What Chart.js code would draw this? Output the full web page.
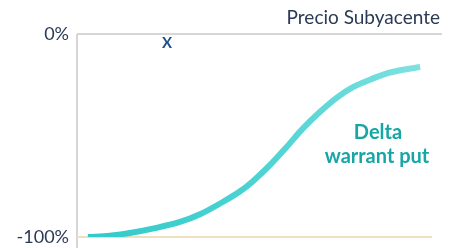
<!DOCTYPE html>
<html>
<head>
<meta charset="utf-8">
<script src="https://cdn.jsdelivr.net/npm/chart.js@4"></script>
<style>
  html, body { margin: 0; padding: 0; background: #fff; }
  #wrap { width: 453px; height: 248px; }
</style>
</head>
<body>
<div id="wrap"><canvas id="deltaChart"></canvas></div>
<script>
// Datos (x = posición relativa del subyacente, y = delta en %)
const precios = [3, 9, 14.5, 21.4, 28.2, 33.7, 39.2, 44.7, 48.2, 52.9, 57.5, 61.9, 66.6, 71.2, 75.6, 80.3, 84.9, 89.3, 94];
const delta = [-100, -99.4, -98, -95.6, -92.6, -88.8, -83.5, -77.5, -72.5, -64.5, -55.5, -46.5, -38.3, -31.3, -26.2, -22.5, -19.4, -17.6, -16.3];
const ticksY = [-100, 0];

const fuente = 'Lato, "Noto Sans", sans-serif';

// Líneas de referencia y textos
const decoracion = {
    id: 'decoracion',
    beforeDatasetsDraw(chart) {
        const { ctx, chartArea, scales } = chart;
        const y0 = scales.y.getPixelForValue(0);
        const y100 = scales.y.getPixelForValue(-100);
        ctx.save();
        ctx.lineWidth = 2;
        // eje vertical
        ctx.strokeStyle = '#d6d6d6';
        ctx.beginPath();
        ctx.moveTo(chartArea.left, y0);
        ctx.lineTo(chartArea.left, chart.height);
        ctx.stroke();
        // línea superior
        ctx.beginPath();
        ctx.moveTo(chartArea.left, y0);
        ctx.lineTo(chartArea.right, y0);
        ctx.stroke();
        // línea -100%
        ctx.strokeStyle = '#ece0c0';
        ctx.beginPath();
        ctx.moveTo(chartArea.left, y100);
        ctx.lineTo(chartArea.right - 10, y100);
        ctx.stroke();
        ctx.restore();
    },
    afterDatasetsDraw(chart) {
        const { ctx } = chart;
        ctx.save();
        ctx.textBaseline = 'middle';
        ctx.fillStyle = '#2b3a55';
        ctx.font = '19px ' + fuente;
        ctx.textAlign = 'right';
        ctx.fillText('Precio Subyacente', 440, 18);
        ctx.fillStyle = '#1d4f8f';
        ctx.font = 'bold 15px ' + fuente;
        ctx.textAlign = 'center';
        ctx.fillText('X', 167, 43);
        ctx.fillStyle = '#16a6a6';
        ctx.font = 'bold 20px ' + fuente;
        ctx.fillText('Delta', 378, 133);
        ctx.fillText('warrant put', 377, 157);
        ctx.restore();
    }
};

const ctx = document.getElementById('deltaChart').getContext('2d');

new Chart(ctx, {
    type: 'line',
    data: {
        datasets: [{
            data: precios.map((x, i) => ({ x: x, y: delta[i] })),
            borderWidth: 6,
            pointRadius: 0,
            tension: 0.4,
            cubicInterpolationMode: 'monotone',
            borderCapStyle: 'butt',
            borderColor: function(context) {
                const area = context.chart.chartArea;
                if (!area) return '#33cccc';
                const g = context.chart.ctx.createLinearGradient(area.left, 0, area.right, 0);
                g.addColorStop(0, '#2ecac9');
                g.addColorStop(0.5, '#4dd3d3');
                g.addColorStop(1, '#85e3e3');
                return g;
            }
        }]
    },
    options: {
        responsive: true,
        maintainAspectRatio: false,
        animation: false,
        layout: { padding: { top: 34, right: 11, bottom: 11, left: 0 } },
        plugins: {
            legend: { display: false },
            tooltip: { enabled: false }
        },
        scales: {
            x: {
                type: 'linear',
                min: 0,
                max: 100,
                display: false
            },
            y: {
                min: -100,
                max: 0,
                afterFit: function(scale) { scale.width = 77; },
                afterBuildTicks: function(scale) {
                    scale.ticks = ticksY.map(v => ({ value: v }));
                },
                grid: { display: false, drawTicks: false },
                border: { display: false },
                ticks: {
                    padding: 8,
                    color: '#2b3a55',
                    font: { family: fuente, size: 18, lineHeight: 0.3 },
                    callback: function(value) { return value + '%'; }
                }
            }
        }
    },
    plugins: [decoracion]
});
</script>
</body>
</html>
